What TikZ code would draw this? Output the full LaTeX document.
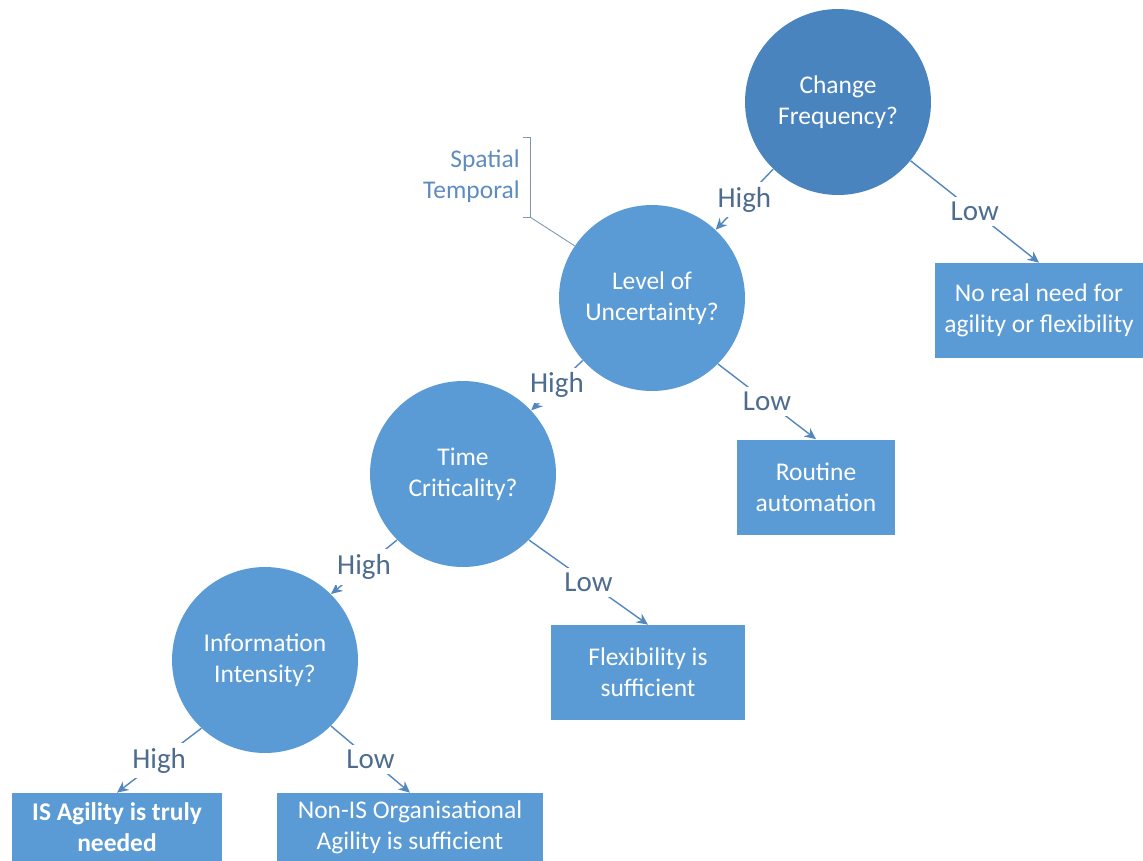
\documentclass[tikz,border=0pt]{standalone}
\usepackage{fontspec}
\setmainfont{Carlito}
\usetikzlibrary{arrows.meta}

\definecolor{topblue}{RGB}{74,132,191}
\definecolor{nodeblue}{RGB}{91,155,213}
\definecolor{linkblue}{RGB}{84,135,190}
\definecolor{labelgrey}{RGB}{78,108,142}
\definecolor{notegrey}{RGB}{95,140,190}
\definecolor{bracketgrey}{RGB}{125,150,180}

\begin{document}
\begin{tikzpicture}[x=0.02cm,y=-0.02cm,
  question/.style={circle,fill=nodeblue,text=white,minimum size=3.72cm,
    inner sep=0pt,align=center,font=\fontsize{14.5}{17.6}\selectfont},
  outcome/.style={rectangle,fill=nodeblue,text=white,align=center,
    inner sep=0pt,minimum height=1.9cm,font=\fontsize{14.5}{17.6}\selectfont},
  link/.style={draw=linkblue,line width=0.8pt,-{Stealth[length=6.5pt,width=6pt]}},
  branch/.style={fill=white,text=labelgrey,inner sep=3pt,
    font=\fontsize{16.5}{20}\selectfont},
  bracket/.style={draw=bracketgrey,line width=0.5pt}
]
\useasboundingbox (0,0) rectangle (1143,860);
\clip (0,0) rectangle (1143,860);

% decision questions
\node[question,fill=topblue] (cf) at (838,102) {Change\\Frequency?};
\node[question] (lu) at (652,298) {Level of\\Uncertainty?};
\node[question] (tc) at (463,474) {Time\\Criticality?};
\node[question] (ii) at (265,660) {Information\\Intensity?};

% outcomes
\node[outcome,minimum width=4.16cm] (noreal) at (1039,310.5) {No real need for\\agility or flexibility};
\node[outcome,minimum width=3.16cm] (routine) at (816,487) {Routine\\automation};
\node[outcome,minimum width=3.88cm] (flex) at (648,672.5) {Flexibility is\\sufficient};
\node[outcome,minimum width=4.2cm,minimum height=1.36cm,
  font=\fontsize{14.5}{17.6}\selectfont\bfseries] (isag) at (117,827) {IS Agility is truly\\needed};
\node[outcome,minimum width=5.32cm,minimum height=1.36cm] (nonis) at (410,827) {Non-IS Organisational\\Agility is sufficient};

% branches
\draw[link] (cf.-134) -- node[branch]{High} (lu.47);
\draw[link] (cf.-39) -- node[branch]{Low} (noreal.north);
\draw[link] (lu.-138) -- node[branch]{High} (tc.43);
\draw[link] (lu.-45) -- node[branch]{Low} (routine.north);
\draw[link] (tc.-135) -- node[branch]{High} (ii.45);
\draw[link] (tc.-45) -- node[branch]{Low} (flex.north);
\draw[link] (ii.-133) -- node[branch]{High} (isag.north);
\draw[link] (ii.-45) -- node[branch]{Low} (nonis.north);

% annotation on uncertainty
\node[anchor=east,text=notegrey,align=right,inner sep=0pt,
  font=\fontsize{14.5}{17.6}\selectfont] (note) at (520,176) {Spatial\\Temporal};
\coordinate (btop) at (530,137);
\coordinate (bbot) at (530,217);
\draw[bracket] (523,137) -- (btop) -- (bbot) -- (523,217);
\draw[bracket] (bbot) -- (lu.146);
\end{tikzpicture}
\end{document}
